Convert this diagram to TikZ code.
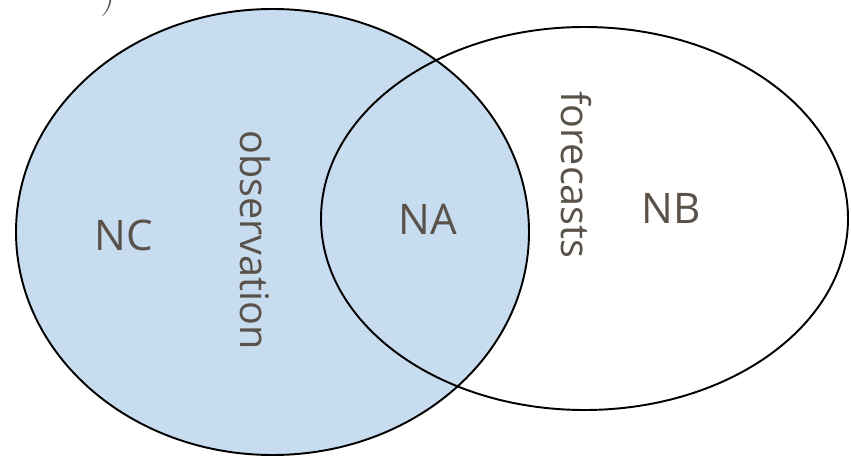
\documentclass[tikz,border=0pt]{standalone}
\usepackage{fontspec}
\setmainfont{Open Sans}
\definecolor{textobrown}{RGB}{89,82,74}
\definecolor{azulobs}{RGB}{200,220,239}
\tikzset{
  conjunto/.style={line width=1.1pt},
  etiqueta/.style={text=textobrown, inner sep=0pt, font=\fontsize{24}{24}\selectfont},
  vertical/.style={etiqueta, rotate=-90, font=\fontsize{22.5}{24}\selectfont}
}
\begin{document}
\begin{tikzpicture}[x=0.02cm, y=0.02cm]
        \useasboundingbox (0,0) rectangle (851,457);
        % Conjuntos
        \draw[conjunto, fill=azulobs] (272.5,225) ellipse [x radius=256.5, y radius=223];
        \draw[conjunto] (584.5,238.5) ellipse [x radius=263.5, y radius=191.5];

        % Regiones
        \node[etiqueta] (nc) at (124,222) {NC};
        \node[etiqueta] (na) at (428,238) {NA};
        \node[etiqueta] (nb) at (671,249) {NB};

        % Nombres
        \node[vertical] (obs) at (255,217) {observation};
        \node[vertical] (fore) at (576,282) {forecasts};

        % Resto cortado
        \node[text=textobrown, anchor=south, inner sep=0pt] (par) at (108,440) {\fontsize{130}{130}\selectfont$)$};
    \end{tikzpicture}
\end{document}
